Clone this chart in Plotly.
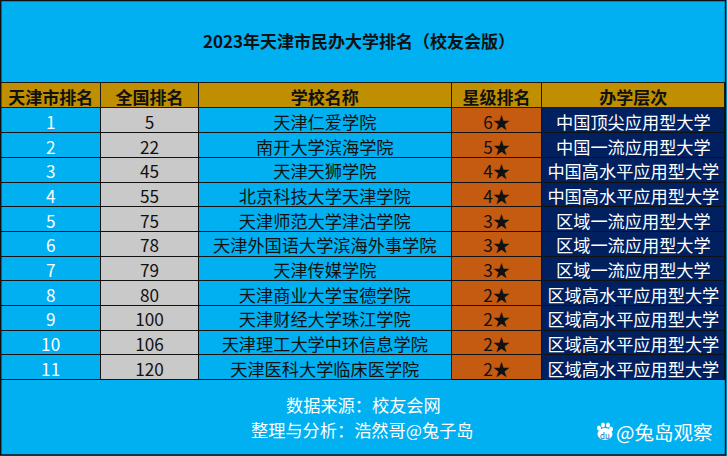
import plotly.graph_objects as go

city_rank = [1, 2, 3, 4, 5, 6, 7, 8, 9, 10, 11]
national_rank = [5, 22, 45, 55, 75, 78, 79, 80, 100, 106, 120]
school = ["天津仁爱学院", "南开大学滨海学院", "天津天狮学院", "北京科技大学天津学院",
          "天津师范大学津沽学院", "天津外国语大学滨海外事学院", "天津传媒学院",
          "天津商业大学宝德学院", "天津财经大学珠江学院", "天津理工大学中环信息学院",
          "天津医科大学临床医学院"]
stars = ["6★", "5★", "4★", "4★", "3★", "3★", "3★", "2★", "2★", "2★", "2★"]
level = ["中国顶尖应用型大学", "中国一流应用型大学", "中国高水平应用型大学", "中国高水平应用型大学",
         "区域一流应用型大学", "区域一流应用型大学", "区域一流应用型大学", "区域高水平应用型大学",
         "区域高水平应用型大学", "区域高水平应用型大学", "区域高水平应用型大学"]
headers = ["天津市排名", "全国排名", "学校名称", "星级排名", "办学层次"]

title = "2023年天津市民办大学排名（校友会版）"
source = "数据来源：校友会网"
author = "整理与分析：浩然哥@兔子岛"
watermark = "@兔岛观察"

BLUE = "#00B0F0"
FONT = "Noto Sans CJK SC"
W, H = 727, 456


def paw(cx, cy, rx, ry):
    # small white blob for the logo, pixel position from top left
    return dict(type="circle", xref="paper", yref="paper", fillcolor="white", line=dict(width=0),
                x0=(cx - rx) / W, x1=(cx + rx) / W, y0=1 - (cy + ry) / H, y1=1 - (cy - ry) / H)


def label(text, px, py, size, color="white"):
    return dict(text=text, x=px / W, y=1 - py / H, xref="paper", yref="paper", showarrow=False,
                xanchor="center", yanchor="middle", font=dict(size=size, color=color))


fig = go.Figure(go.Table(
    domain=dict(x=[0.001, 0.998], y=[0.165, 0.818]),
    columnwidth=[100, 98, 253, 91, 183],
    header=dict(
        values=headers,
        fill_color="#BF8F00",
        line=dict(color="#1a1a1a", width=1),
        font=dict(family=FONT, size=17, color="#111111", weight="bold"),
        align="center",
        height=25,
    ),
    cells=dict(
        values=[city_rank, national_rank, school, stars, level],
        fill_color=[BLUE, "#C9C9C9", BLUE, "#C55A11", "#002060"],
        line=dict(color="#111111", width=1),
        font=dict(family=FONT, size=17.2, color=["white", "#111111", "#111111", "#111111", "white"]),
        align="center",
        height=24.7,
    ),
))

fig.update_layout(
    width=W, height=H,
    margin=dict(l=0, r=0, t=0, b=0),
    paper_bgcolor=BLUE,
    font=dict(family=FONT),
    shapes=[
        dict(type="rect", xref="paper", yref="paper", x0=0.001, x1=0.998, y0=0.002, y1=0.999,
             line=dict(color="#111111", width=1.5)),
        paw(605, 434, 7.5, 6), paw(599, 428, 2, 2.5), paw(603, 425, 2, 2.5),
        paw(608, 425, 2, 2.5), paw(611, 429, 2, 2.5),
    ],
    annotations=[
        label("<b>%s</b>" % title, 358.5, 40.5, 17, "#111111"),
        label(source, 363, 404, 17.2),
        label(author, 362, 429, 17.2),
        label(watermark, 664, 431, 19.5),
        label("du", 605, 435, 8, "#0a6fc0"),
    ],
)

fig.write_html("out.html", config={"displayModeBar": False}, post_script="document.body.style.margin='0';")
